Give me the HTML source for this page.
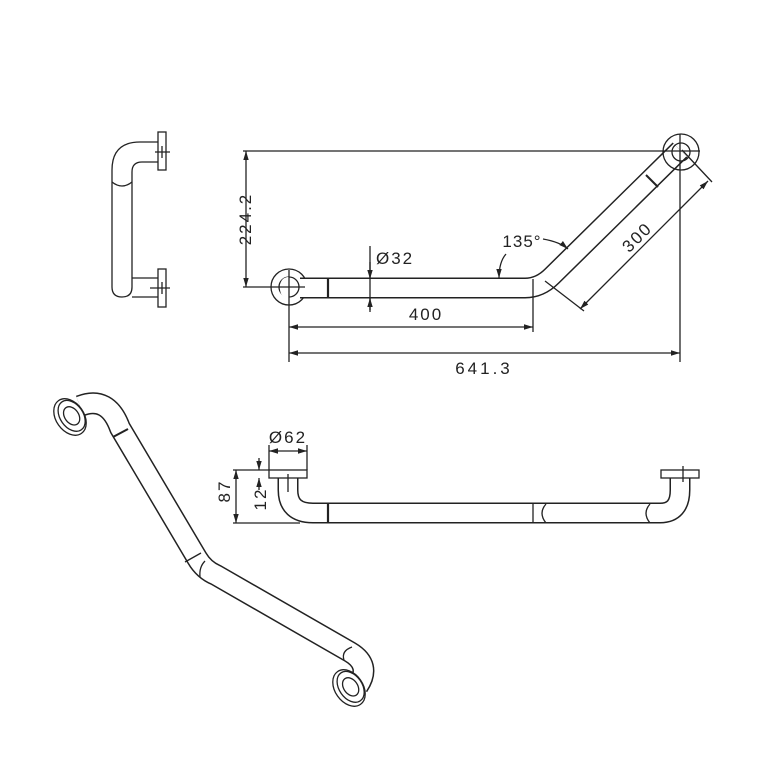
<!DOCTYPE html>
<html><head><meta charset="utf-8"><style>
html,body{margin:0;padding:0;background:#fff}
svg{display:block}
text{font-family:"Liberation Sans",sans-serif;fill:#222;font-size:17px}
</style></head><body>
<svg width="768" height="768" viewBox="0 0 768 768" xmlns="http://www.w3.org/2000/svg">
<defs>
<marker id="a" viewBox="0 0 10 10" refX="10" refY="5" markerWidth="7" markerHeight="7" orient="auto-start-reverse"><path d="M0,2 L10,5 L0,8 z" fill="#222"/></marker>
</defs>
<g fill="none" stroke="#222" stroke-width="1.3">

<!-- SIDE VIEW -->
<path d="M158 142 L140 142 Q112 142 112 170 L112 287 Q112 297 122 297 Q132 297 132 287 L132 172 Q132 162 142 162 L158 162" fill="#fff"/>
<path d="M132 278 L158 278 M132 297 L158 297"/>
<path d="M112 182 Q122 190 132 182"/>
<rect x="158" y="132" width="8" height="38" fill="#fff"/>
<rect x="158" y="269" width="8" height="38" fill="#fff"/>
<path d="M155 152 L170 152 M162 146 L162 158 M150 288 L170 288 M162 282 L162 294"/>

<!-- TOP VIEW -->
<circle cx="289" cy="287" r="18" fill="#fff"/>
<circle cx="289" cy="287" r="10"/>
<path d="M300 288 L525 288 Q540 288 552 276 L680 150" stroke="#222" stroke-width="21"/>
<path d="M300 288 L525 288 Q540 288 552 276 L680 150" stroke="#fff" stroke-width="18"/>
<circle cx="681" cy="152" r="18" fill="none"/>
<circle cx="681" cy="152" r="9"/>
<path d="M289 277 L289 298 Q280 298 280 288 Q280 277 289 277" stroke="none" fill="#fff"/>
<path d="M328 279 L328 298" stroke-width="2.2"/>
<path d="M533 279 L533 298"/>
<path d="M646 175 L658 187" stroke-width="2"/>
<!-- dims top -->
<path d="M243 151 L700 151"/>
<path d="M243 287 L305 287"/>
<path d="M246 151 L246 287" marker-start="url(#a)" marker-end="url(#a)"/>
<path d="M289 270 L289 362 M680 134 L680 362 M533 298 L533 332"/>
<path d="M289 327 L533 327" marker-start="url(#a)" marker-end="url(#a)"/>
<path d="M289 353 L680 353" marker-start="url(#a)" marker-end="url(#a)"/>
<path d="M370 246 L370 310"/>
<path d="M370 262 L370 279" marker-end="url(#a)"/>
<path d="M370 312 L370 298" marker-end="url(#a)"/>
<path d="M545 281 L584 311 M682 150 L712 182"/>
<path d="M580 309 L708 181" marker-start="url(#a)" marker-end="url(#a)"/>
<path d="M543 239 Q560 242 568 249" marker-end="url(#a)"/>
<path d="M506 254 Q499 262 499 278" marker-end="url(#a)"/>

<!-- FRONT VIEW -->
<path d="M288 478 L288 490 Q288 513 313 513 L660 513 Q680 513 680 490 L680 478" stroke="#222" stroke-width="21"/>
<path d="M288 478 L288 490 Q288 513 313 513 L660 513 Q680 513 680 490 L680 478" stroke="#fff" stroke-width="18"/>
<rect x="269" y="470" width="38" height="8" fill="#fff"/>
<rect x="661" y="470" width="38" height="8" fill="#fff"/>
<path d="M288 474 L288 492 M683 466 L683 482"/>
<path d="M328 504 L328 523" stroke-width="2.2"/>
<path d="M533 504 L533 523"/>
<path d="M546 504 Q538 513 546 523 M650 504 Q642 513 650 523"/>
<path d="M269 445 L269 470 M307 445 L307 470"/>
<path d="M269 451 L307 451" marker-start="url(#a)" marker-end="url(#a)"/>
<path d="M233 470 L269 470 M233 523 L300 523"/>
<path d="M236 470 L236 523" marker-start="url(#a)" marker-end="url(#a)"/>
<path d="M259 458 L259 470" marker-end="url(#a)"/>
<path d="M259 490 L259 478" marker-end="url(#a)"/>

<!-- ISOMETRIC -->
<path d="M80 406 Q108 395 120 428 L197 558 Q204 570 216 575 L350 652 Q372 665 358 686" stroke="#222" stroke-width="22" stroke-linejoin="round"/>
<path d="M80 406 Q108 395 120 428 L197 558 Q204 570 216 575 L350 652 Q372 665 358 686" stroke="#fff" stroke-width="19" stroke-linejoin="round"/>
<g transform="rotate(-35 70 417)"><ellipse cx="70" cy="417" rx="14" ry="20" fill="#fff"/><ellipse cx="72" cy="417" rx="11.5" ry="17"/><ellipse cx="72" cy="417" rx="7" ry="10"/></g>
<g transform="rotate(-35 349 688)"><ellipse cx="349" cy="688" rx="14" ry="20" fill="#fff"/><ellipse cx="351" cy="688" rx="11.5" ry="17"/><ellipse cx="351" cy="688" rx="7" ry="10"/></g>
<path d="M113 437 L128 429" stroke-width="2"/>
<path d="M185 562 L201 553"/>
<path d="M200 577 Q199 567 205 561"/>
<path d="M344 660 Q341 651 352 647"/>
</g>

<text x="222" y="248" transform="rotate(-90 222 219)" text-anchor="middle" style="letter-spacing:2px">224.2</text>
<text x="376" y="264" style="letter-spacing:2px">Ø32</text>
<text x="426" y="320" text-anchor="middle" style="letter-spacing:2px">400</text>
<text x="484" y="374" text-anchor="middle" style="letter-spacing:3px">641.3</text>
<text x="522" y="247" text-anchor="middle" style="letter-spacing:1px">135°</text>
<text x="637" y="243" transform="rotate(-45 637 237)" text-anchor="middle" style="letter-spacing:2px">300</text>
<text x="288" y="443" text-anchor="middle" style="letter-spacing:2px">Ø62</text>
<text x="224" y="497" transform="rotate(-90 224 491)" text-anchor="middle" style="letter-spacing:2px">87</text>
<text x="260" y="505" transform="rotate(-90 260 499)" text-anchor="middle" style="letter-spacing:2px">12</text>
</svg>
</body></html>
